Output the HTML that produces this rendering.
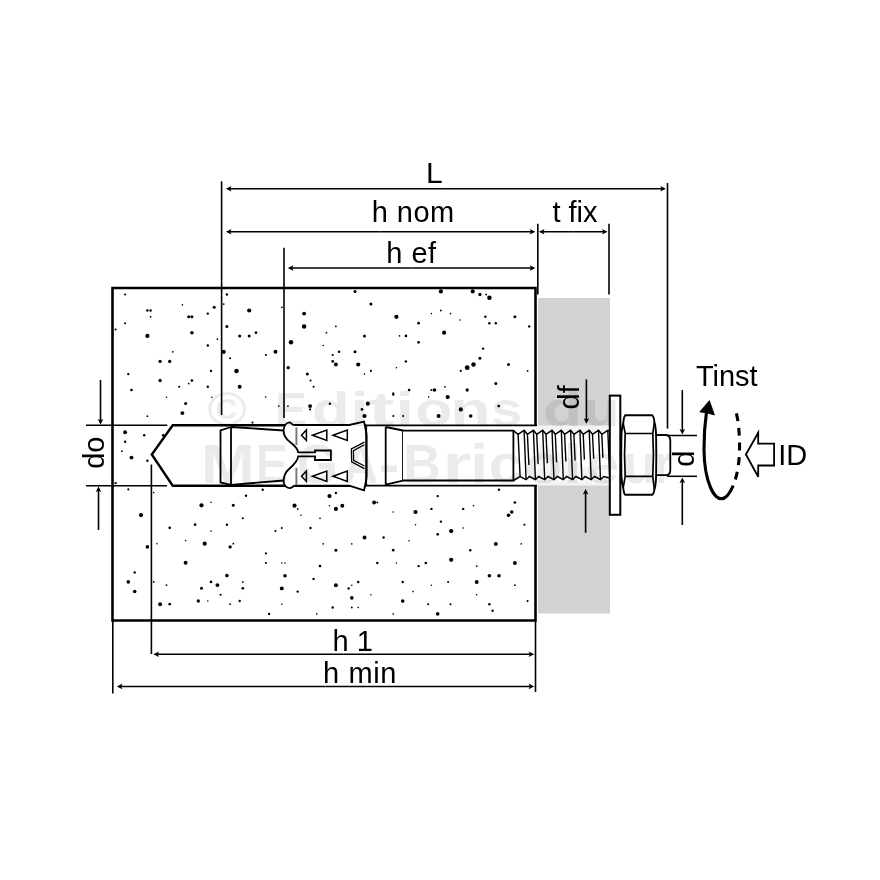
<!DOCTYPE html>
<html><head><meta charset="utf-8"><style>html,body{margin:0;padding:0;background:#fff;width:880px;height:880px;overflow:hidden}svg{display:block;will-change:transform}</style></head>
<body><svg width="880" height="880" viewBox="0 0 880 880"><rect x="0" y="0" width="880" height="880" fill="#fff"/>
<rect x="538" y="298" width="72" height="315.5" fill="#d2d2d2"/>
<rect x="538" y="425.5" width="72" height="60" fill="#f4f4f4"/>
<g fill="#000"><circle cx="125.1" cy="294.5" r="1.05"/><circle cx="147.4" cy="310.5" r="1.20"/><circle cx="150.6" cy="310.5" r="1.20"/><circle cx="150.6" cy="316.8" r="0.90"/><circle cx="125.1" cy="323.2" r="1.05"/><circle cx="115.6" cy="329.5" r="1.05"/><circle cx="147.4" cy="335.9" r="2.10"/><circle cx="182.4" cy="304.9" r="0.80"/><circle cx="188.7" cy="316.8" r="1.50"/><circle cx="191.9" cy="316.8" r="1.50"/><circle cx="191.9" cy="332.7" r="1.80"/><circle cx="207.8" cy="313.6" r="1.20"/><circle cx="214.2" cy="307.3" r="1.50"/><circle cx="207.8" cy="345.5" r="1.20"/><circle cx="217.4" cy="339.1" r="0.90"/><circle cx="172.8" cy="351.8" r="0.90"/><circle cx="160.1" cy="361.4" r="1.65"/><circle cx="169.7" cy="361.4" r="1.65"/><circle cx="128.3" cy="374.1" r="1.20"/><circle cx="211" cy="370.9" r="1.20"/><circle cx="160.1" cy="380.5" r="1.65"/><circle cx="191.9" cy="380.5" r="1.35"/><circle cx="188.7" cy="383.6" r="0.90"/><circle cx="179.2" cy="386.8" r="1.05"/><circle cx="207.8" cy="386.8" r="1.20"/><circle cx="131.5" cy="390" r="1.35"/><circle cx="226.9" cy="294.5" r="1.20"/><circle cx="223.7" cy="304.1" r="0.90"/><circle cx="249.2" cy="310.5" r="2.10"/><circle cx="226.9" cy="326.4" r="1.50"/><circle cx="239.7" cy="335.9" r="1.50"/><circle cx="249.2" cy="335.9" r="1.50"/><circle cx="223.7" cy="351.8" r="2.10"/><circle cx="230.1" cy="358.2" r="1.05"/><circle cx="236.5" cy="370.9" r="2.25"/><circle cx="239.7" cy="386.8" r="1.95"/><circle cx="281.8" cy="307.3" r="0.90"/><circle cx="256" cy="332.7" r="1.35"/><circle cx="275.5" cy="351.8" r="1.95"/><circle cx="265.9" cy="355" r="1.05"/><circle cx="304.1" cy="313.6" r="1.95"/><circle cx="304.1" cy="326.4" r="2.25"/><circle cx="291" cy="342.3" r="2.25"/><circle cx="288.2" cy="367.7" r="1.65"/><circle cx="307.3" cy="374.1" r="1.50"/><circle cx="310.5" cy="380.5" r="1.05"/><circle cx="313.6" cy="386.8" r="1.05"/><circle cx="355" cy="291.4" r="1.50"/><circle cx="370.9" cy="304.1" r="1.50"/><circle cx="335.9" cy="326.4" r="0.90"/><circle cx="326.4" cy="332.7" r="0.90"/><circle cx="364.5" cy="335.9" r="1.50"/><circle cx="323.2" cy="345.5" r="0.80"/><circle cx="339.1" cy="351.8" r="1.20"/><circle cx="332.7" cy="355" r="1.05"/><circle cx="355" cy="351.8" r="1.50"/><circle cx="332.7" cy="361.4" r="1.35"/><circle cx="335.9" cy="364.5" r="1.95"/><circle cx="358.2" cy="364.5" r="2.10"/><circle cx="370.9" cy="370.9" r="1.05"/><circle cx="364.5" cy="374.1" r="0.80"/><circle cx="440.9" cy="291.4" r="2.10"/><circle cx="472.7" cy="291.4" r="2.10"/><circle cx="479.9" cy="294.5" r="1.65"/><circle cx="486.2" cy="294.5" r="0.90"/><circle cx="489.4" cy="297.7" r="2.25"/><circle cx="396.4" cy="316.8" r="2.10"/><circle cx="418.6" cy="323.2" r="1.35"/><circle cx="440.9" cy="310.5" r="0.90"/><circle cx="431.4" cy="313.6" r="0.80"/><circle cx="450.5" cy="313.6" r="0.80"/><circle cx="460" cy="320" r="0.80"/><circle cx="485.4" cy="316.8" r="1.20"/><circle cx="489.4" cy="323.2" r="1.20"/><circle cx="495.8" cy="323.2" r="1.20"/><circle cx="514.9" cy="316.8" r="1.50"/><circle cx="529.2" cy="326.4" r="1.20"/><circle cx="444.1" cy="332.7" r="2.10"/><circle cx="405.9" cy="335.9" r="1.35"/><circle cx="418.6" cy="342.3" r="1.35"/><circle cx="399.5" cy="335.9" r="0.80"/><circle cx="483.1" cy="348.6" r="1.20"/><circle cx="479.9" cy="358.2" r="1.50"/><circle cx="473.5" cy="364.5" r="2.25"/><circle cx="467.2" cy="367.7" r="2.40"/><circle cx="460.8" cy="370.9" r="1.05"/><circle cx="508.5" cy="364.5" r="1.50"/><circle cx="527.6" cy="370.9" r="0.90"/><circle cx="405.9" cy="361.4" r="1.20"/><circle cx="396.4" cy="367.7" r="0.80"/><circle cx="495.8" cy="383.6" r="1.50"/><circle cx="409.1" cy="390" r="1.35"/><circle cx="434.5" cy="390" r="1.80"/><circle cx="431.4" cy="390" r="1.05"/><circle cx="444.9" cy="386.8" r="0.90"/><circle cx="467.2" cy="390" r="1.65"/><circle cx="393.2" cy="393.2" r="1.05"/><circle cx="166.5" cy="397.2" r="0.80"/><circle cx="185.6" cy="403.5" r="1.50"/><circle cx="182.4" cy="413.1" r="1.95"/><circle cx="147.4" cy="416.2" r="0.90"/><circle cx="211.8" cy="397.2" r="0.80"/><circle cx="125.1" cy="432.2" r="1.95"/><circle cx="144.2" cy="435.3" r="1.20"/><circle cx="163.3" cy="435.3" r="1.35"/><circle cx="125.1" cy="441.7" r="1.20"/><circle cx="121.9" cy="451.2" r="0.90"/><circle cx="131.5" cy="457.6" r="1.95"/><circle cx="147.4" cy="460.8" r="1.20"/><circle cx="115.6" cy="483.1" r="1.20"/><circle cx="128.3" cy="489.4" r="1.05"/><circle cx="153.7" cy="492.6" r="0.80"/><circle cx="201.5" cy="505.3" r="2.10"/><circle cx="233.3" cy="505.3" r="1.50"/><circle cx="246" cy="495.8" r="1.20"/><circle cx="211" cy="502.2" r="0.80"/><circle cx="265.7" cy="397.1" r="0.80"/><circle cx="310.1" cy="406.1" r="1.95"/><circle cx="310.1" cy="409.4" r="1.05"/><circle cx="329.9" cy="403.7" r="1.20"/><circle cx="367.8" cy="403.7" r="2.10"/><circle cx="362" cy="409.4" r="1.35"/><circle cx="364.5" cy="416" r="2.10"/><circle cx="252.5" cy="422.6" r="1.05"/><circle cx="393.3" cy="394.6" r="1.20"/><circle cx="393.3" cy="416" r="1.05"/><circle cx="287.9" cy="406.1" r="0.90"/><circle cx="278.8" cy="406.1" r="0.90"/><circle cx="447.7" cy="397.1" r="2.10"/><circle cx="428.7" cy="397.1" r="0.80"/><circle cx="460.8" cy="409.4" r="2.10"/><circle cx="438.6" cy="416" r="1.95"/><circle cx="470.7" cy="416" r="1.80"/><circle cx="498.7" cy="406.1" r="1.35"/><circle cx="403.2" cy="416" r="1.05"/><circle cx="141" cy="515.1" r="2.10"/><circle cx="242.8" cy="518.3" r="1.05"/><circle cx="169.7" cy="527.8" r="1.35"/><circle cx="195.1" cy="524.7" r="1.35"/><circle cx="226.9" cy="524.7" r="1.20"/><circle cx="211" cy="531" r="0.80"/><circle cx="147.4" cy="546.9" r="1.80"/><circle cx="156.9" cy="543.7" r="0.80"/><circle cx="185.6" cy="540.6" r="0.80"/><circle cx="204.7" cy="543.7" r="2.10"/><circle cx="230.1" cy="546.9" r="1.65"/><circle cx="233.3" cy="543.7" r="0.90"/><circle cx="185.6" cy="562.8" r="1.95"/><circle cx="134.7" cy="572.4" r="1.20"/><circle cx="128.3" cy="581.9" r="1.80"/><circle cx="134.7" cy="591.5" r="1.80"/><circle cx="226.9" cy="575.6" r="1.80"/><circle cx="211" cy="581.9" r="1.35"/><circle cx="217.4" cy="585.1" r="1.95"/><circle cx="201.5" cy="588.3" r="1.50"/><circle cx="166.5" cy="585.1" r="0.90"/><circle cx="153.7" cy="581.9" r="0.90"/><circle cx="242.8" cy="581.9" r="0.90"/><circle cx="242.8" cy="588.3" r="1.35"/><circle cx="220.6" cy="594.7" r="1.05"/><circle cx="160.1" cy="604.2" r="1.95"/><circle cx="169.7" cy="604.2" r="1.35"/><circle cx="198.3" cy="601" r="1.65"/><circle cx="207.8" cy="601" r="0.80"/><circle cx="239.7" cy="601" r="1.20"/><circle cx="230.1" cy="604.2" r="0.90"/><circle cx="262.7" cy="489.8" r="1.20"/><circle cx="335.9" cy="493" r="1.20"/><circle cx="329.5" cy="496.1" r="2.10"/><circle cx="294.5" cy="505.7" r="2.10"/><circle cx="297.7" cy="508.9" r="0.90"/><circle cx="300.9" cy="515.2" r="0.80"/><circle cx="342.3" cy="505.7" r="1.95"/><circle cx="335.9" cy="508.9" r="2.10"/><circle cx="329.5" cy="505.7" r="0.80"/><circle cx="320" cy="518.4" r="0.80"/><circle cx="374.1" cy="502.5" r="1.95"/><circle cx="377.3" cy="502.5" r="0.90"/><circle cx="281.8" cy="528" r="1.05"/><circle cx="275.5" cy="531.1" r="1.05"/><circle cx="310.5" cy="528" r="1.20"/><circle cx="364.5" cy="537.5" r="1.95"/><circle cx="383.6" cy="537.5" r="1.20"/><circle cx="323.2" cy="543.9" r="0.80"/><circle cx="351.8" cy="543.9" r="0.80"/><circle cx="335.9" cy="550.2" r="1.50"/><circle cx="265.9" cy="553.4" r="1.05"/><circle cx="265.9" cy="563" r="1.05"/><circle cx="281.8" cy="563" r="0.80"/><circle cx="285" cy="563" r="0.80"/><circle cx="320" cy="566.1" r="1.35"/><circle cx="377.3" cy="563" r="1.20"/><circle cx="285" cy="575.7" r="1.80"/><circle cx="313.6" cy="578.9" r="1.20"/><circle cx="281.8" cy="588.4" r="1.95"/><circle cx="297.7" cy="591.6" r="1.20"/><circle cx="335.9" cy="585.2" r="1.95"/><circle cx="348.6" cy="588.4" r="1.20"/><circle cx="358.2" cy="582" r="1.20"/><circle cx="351.8" cy="585.2" r="0.80"/><circle cx="351.8" cy="597.9" r="1.80"/><circle cx="370.9" cy="594.8" r="0.80"/><circle cx="281.8" cy="604.3" r="0.80"/><circle cx="332.7" cy="607.5" r="1.20"/><circle cx="351.8" cy="607.5" r="0.90"/><circle cx="358.2" cy="607.5" r="0.80"/><circle cx="269.1" cy="613.9" r="1.20"/><circle cx="316.8" cy="613.9" r="0.80"/><circle cx="499" cy="489.8" r="1.20"/><circle cx="437.7" cy="496.1" r="1.20"/><circle cx="514.9" cy="502.5" r="1.35"/><circle cx="415.5" cy="512" r="2.10"/><circle cx="431.4" cy="508.9" r="1.20"/><circle cx="463.2" cy="508.9" r="1.20"/><circle cx="473.5" cy="505.7" r="0.80"/><circle cx="511.7" cy="512" r="1.80"/><circle cx="508.5" cy="515.2" r="1.80"/><circle cx="393.2" cy="512" r="0.80"/><circle cx="415.5" cy="524.8" r="0.80"/><circle cx="440.9" cy="521.6" r="1.20"/><circle cx="463.2" cy="528" r="0.80"/><circle cx="524.4" cy="524.8" r="1.05"/><circle cx="451.2" cy="531.1" r="2.10"/><circle cx="437.7" cy="534.3" r="1.35"/><circle cx="409.1" cy="540.7" r="0.80"/><circle cx="495.8" cy="543.9" r="1.95"/><circle cx="521.2" cy="543.9" r="0.80"/><circle cx="393.2" cy="550.2" r="1.35"/><circle cx="470.3" cy="550.2" r="1.20"/><circle cx="451.2" cy="559.8" r="2.10"/><circle cx="425.8" cy="563" r="1.35"/><circle cx="418.6" cy="566.1" r="1.20"/><circle cx="396.4" cy="563" r="0.80"/><circle cx="476.7" cy="566.1" r="0.90"/><circle cx="514.9" cy="563" r="1.95"/><circle cx="489.4" cy="575.7" r="1.80"/><circle cx="499" cy="575.7" r="1.80"/><circle cx="476.7" cy="582" r="1.95"/><circle cx="448.1" cy="582" r="1.05"/><circle cx="402.7" cy="582" r="1.20"/><circle cx="431.4" cy="585.2" r="0.80"/><circle cx="413.1" cy="591.6" r="0.80"/><circle cx="514.9" cy="585.2" r="0.90"/><circle cx="476.7" cy="594.8" r="0.80"/><circle cx="402.7" cy="601.1" r="1.80"/><circle cx="428.2" cy="604.3" r="1.05"/><circle cx="450.5" cy="604.3" r="1.05"/><circle cx="489.4" cy="604.3" r="1.20"/><circle cx="492.6" cy="610.7" r="1.20"/><circle cx="527.6" cy="601.1" r="1.05"/><circle cx="437.7" cy="613.9" r="1.80"/><circle cx="393.2" cy="613.9" r="0.80"/></g>
<path d="M535.5,425.5 V288 H112.5 V620.5 H535.5 V485.7" fill="none" stroke="#000" stroke-width="2.6"/>
<line x1="86" y1="425.2" x2="167.3" y2="425.2" stroke="#000" stroke-width="1.6"/>
<line x1="86" y1="485.8" x2="167" y2="485.8" stroke="#000" stroke-width="1.6"/>
<line x1="366" y1="425.3" x2="537" y2="425.3" stroke="#000" stroke-width="1.7"/>
<line x1="366" y1="485.7" x2="537" y2="485.7" stroke="#000" stroke-width="1.7"/>
<line x1="445.90" y1="188.80" x2="228.00" y2="188.80" stroke="#000" stroke-width="1.5"/><path d="M225.90,188.80 L231.50,186.00 L230.20,188.80 L231.50,191.60Z" fill="#000"/><line x1="445.90" y1="188.80" x2="663.80" y2="188.80" stroke="#000" stroke-width="1.5"/><path d="M665.90,188.80 L660.30,191.60 L661.60,188.80 L660.30,186.00Z" fill="#000"/>
<line x1="221.6" y1="181.3" x2="221.6" y2="415" stroke="#000" stroke-width="1.6"/>
<line x1="667.5" y1="183" x2="667.5" y2="428.6" stroke="#000" stroke-width="1.6"/>
<line x1="380.60" y1="231.70" x2="228.00" y2="231.70" stroke="#000" stroke-width="1.5"/><path d="M225.90,231.70 L231.50,228.90 L230.20,231.70 L231.50,234.50Z" fill="#000"/><line x1="380.60" y1="231.70" x2="533.20" y2="231.70" stroke="#000" stroke-width="1.5"/><path d="M535.30,231.70 L529.70,234.50 L531.00,231.70 L529.70,228.90Z" fill="#000"/>
<line x1="573.25" y1="231.70" x2="541.00" y2="231.70" stroke="#000" stroke-width="1.5"/><path d="M538.90,231.70 L544.50,228.90 L543.20,231.70 L544.50,234.50Z" fill="#000"/><line x1="573.25" y1="231.70" x2="605.50" y2="231.70" stroke="#000" stroke-width="1.5"/><path d="M607.60,231.70 L602.00,234.50 L603.30,231.70 L602.00,228.90Z" fill="#000"/>
<line x1="537.8" y1="223.8" x2="537.8" y2="294.4" stroke="#000" stroke-width="1.6"/>
<line x1="609" y1="223.8" x2="609" y2="294.4" stroke="#000" stroke-width="1.6"/>
<line x1="411.55" y1="268.10" x2="289.90" y2="268.10" stroke="#000" stroke-width="1.5"/><path d="M287.80,268.10 L293.40,265.30 L292.10,268.10 L293.40,270.90Z" fill="#000"/><line x1="411.55" y1="268.10" x2="533.20" y2="268.10" stroke="#000" stroke-width="1.5"/><path d="M535.30,268.10 L529.70,270.90 L531.00,268.10 L529.70,265.30Z" fill="#000"/>
<line x1="284" y1="247.8" x2="284" y2="418" stroke="#000" stroke-width="1.6"/>
<line x1="343.80" y1="654.30" x2="155.50" y2="654.30" stroke="#000" stroke-width="1.5"/><path d="M153.40,654.30 L159.00,651.50 L157.70,654.30 L159.00,657.10Z" fill="#000"/><line x1="343.80" y1="654.30" x2="532.10" y2="654.30" stroke="#000" stroke-width="1.5"/><path d="M534.20,654.30 L528.60,657.10 L529.90,654.30 L528.60,651.50Z" fill="#000"/>
<line x1="151.4" y1="464.5" x2="151.4" y2="654" stroke="#000" stroke-width="1.6"/>
<line x1="325.55" y1="686.40" x2="119.00" y2="686.40" stroke="#000" stroke-width="1.5"/><path d="M116.90,686.40 L122.50,683.60 L121.20,686.40 L122.50,689.20Z" fill="#000"/><line x1="325.55" y1="686.40" x2="532.10" y2="686.40" stroke="#000" stroke-width="1.5"/><path d="M534.20,686.40 L528.60,689.20 L529.90,686.40 L528.60,683.60Z" fill="#000"/>
<line x1="112.8" y1="620" x2="112.8" y2="693.4" stroke="#000" stroke-width="1.6"/>
<line x1="535.5" y1="620" x2="535.5" y2="692" stroke="#000" stroke-width="1.6"/>
<line x1="100.50" y1="380.00" x2="100.50" y2="422.40" stroke="#000" stroke-width="1.6"/><path d="M100.50,424.50 L97.70,418.90 L100.50,420.20 L103.30,418.90Z" fill="#000"/>
<line x1="98.50" y1="530.00" x2="98.50" y2="488.60" stroke="#000" stroke-width="1.6"/><path d="M98.50,486.50 L101.30,492.10 L98.50,490.80 L95.70,492.10Z" fill="#000"/>
<line x1="586.40" y1="379.40" x2="586.40" y2="421.70" stroke="#000" stroke-width="1.6"/><path d="M586.40,423.80 L583.60,418.20 L586.40,419.50 L589.20,418.20Z" fill="#000"/>
<line x1="585.60" y1="532.80" x2="585.60" y2="491.10" stroke="#000" stroke-width="1.6"/><path d="M585.60,489.00 L588.40,494.60 L585.60,493.30 L582.80,494.60Z" fill="#000"/>
<line x1="667" y1="435.5" x2="697" y2="435.5" stroke="#000" stroke-width="1.5"/>
<line x1="667" y1="476.3" x2="697" y2="476.3" stroke="#000" stroke-width="1.5"/>
<line x1="682.30" y1="390.00" x2="682.30" y2="432.40" stroke="#000" stroke-width="1.6"/><path d="M682.30,434.50 L679.50,428.90 L682.30,430.20 L685.10,428.90Z" fill="#000"/>
<line x1="682.30" y1="525.00" x2="682.30" y2="479.60" stroke="#000" stroke-width="1.6"/><path d="M682.30,477.50 L685.10,483.10 L682.30,481.80 L679.50,483.10Z" fill="#000"/>
<path d="M366,425.3 H172.7 L151.8,454.5 L172.7,485.7 H366" fill="#fff" stroke="#000" stroke-width="2.4"/>
<path d="M231,427 L220.5,430.3 L220.5,482.5 L231,484.8 Z M231,427 L283.8,430.5 M231,484.8 L283.8,480.5" fill="none" stroke="#000" stroke-width="1.8"/>
<path d="M293.2,425 H349.3 L364,421.6 C365.5,428 366.5,432 366.6,436 V476 C366.5,480 365.5,484 364,490.4 L349.3,485.7 H294.5" fill="#fff" stroke="#000" stroke-width="1.9"/>
<path d="M293.2,425 C291.5,423.5 290.5,422.3 289.5,422.3 C287,422.5 284,425 283.6,430 C283.3,436 286,439 290,442 C294,445 297.5,448 298.2,452.3 H315 V450.5 H330.9 V460 H315 V456.4 H298.2 C297.5,462 293,465.5 289,469 C285.5,472 283.5,477 283.6,482 C284,486 287.5,488.3 290,488.2 C291.5,488 292.5,487 294.5,485.5" fill="#fff" stroke="#000" stroke-width="1.8"/>
<line x1="296.4" y1="427.3" x2="296.4" y2="445" stroke="#777777" stroke-width="1.9"/>
<line x1="296.4" y1="467.7" x2="296.4" y2="485" stroke="#777777" stroke-width="1.9"/>
<path d="M301.5,435.2 L306.4,430.0 L306.4,440.4 Z" fill="none" stroke="#000" stroke-width="1.5"/>
<path d="M312.5,435.2 L326.8,430.0 L326.8,440.4 Z" fill="none" stroke="#000" stroke-width="1.5"/>
<path d="M333,435.2 L347.3,430.0 L347.3,440.4 Z" fill="none" stroke="#000" stroke-width="1.5"/>
<path d="M301.5,476.2 L306.4,471.0 L306.4,481.4 Z" fill="none" stroke="#000" stroke-width="1.5"/>
<path d="M312.5,476.2 L326.8,471.0 L326.8,481.4 Z" fill="none" stroke="#000" stroke-width="1.5"/>
<path d="M333,476.2 L347.3,471.0 L347.3,481.4 Z" fill="none" stroke="#000" stroke-width="1.5"/>
<path d="M364.4,442.2 L351.4,448.9 L351.6,461.9 L364.4,468.6 M364.4,444.8 L353.4,450.6 L353.6,460.4 L364.4,466" fill="none" stroke="#000" stroke-width="1.3"/>
<path d="M366.2,425.3 V485.7 M385.7,427 V484.7 M385.7,427 L403,430.5 M385.7,484.7 L403,480.6 M403,430.5 V480.6" fill="none" stroke="#000" stroke-width="1.8"/>
<path d="M403,430.6 H513.4 V480.5 H403" fill="#fff" stroke="#000" stroke-width="1.8"/>
<path d="M513.4,430.7 513.4,430.7 L518.1,434.3 L524.1,430.3 L527.4,434.3 L533.4,430.3 L536.7,434.3 L542.7,430.3 L546.0,434.3 L552.0,430.3 L555.3,434.3 L561.3,430.3 L564.6,434.3 L570.6,430.3 L573.9,434.3 L579.9,430.3 L583.2,434.3 L589.2,430.3 L592.5,434.3 L598.5,430.3 L601.8,434.3 L607.8,430.3 L609.5,431 L609.5,480 L513.4,480.5 L520.1,476.5 L526.1,479.7 L529.4,476.5 L535.4,479.7 L538.7,476.5 L544.7,479.7 L548.0,476.5 L554.0,479.7 L557.3,476.5 L563.3,479.7 L566.6,476.5 L572.6,479.7 L575.9,476.5 L581.9,479.7 L585.2,476.5 L591.2,479.7 L594.5,476.5 L600.5,479.7 L603.8,476.5 L609.5,478 Z" fill="#fff" stroke="none"/>
<path d="M513.4,430.7 L518.1,434.3 L524.1,430.3 L527.4,434.3 L533.4,430.3 L536.7,434.3 L542.7,430.3 L546.0,434.3 L552.0,430.3 L555.3,434.3 L561.3,430.3 L564.6,434.3 L570.6,430.3 L573.9,434.3 L579.9,430.3 L583.2,434.3 L589.2,430.3 L592.5,434.3 L598.5,430.3 L601.8,434.3 L607.8,430.3 L609.5,431" fill="none" stroke="#000" stroke-width="1.5"/>
<path d="M513.4,480.5 L520.1,476.5 L526.1,479.7 L529.4,476.5 L535.4,479.7 L538.7,476.5 L544.7,479.7 L548.0,476.5 L554.0,479.7 L557.3,476.5 L563.3,479.7 L566.6,476.5 L572.6,479.7 L575.9,476.5 L581.9,479.7 L585.2,476.5 L591.2,479.7 L594.5,476.5 L600.5,479.7 L603.8,476.5 L609.5,478" fill="none" stroke="#000" stroke-width="1.5"/>
<path d="M524.1,430.3 L526.1,479.7 M518.1,434.3 L520.1,476.5 M533.4,430.3 L535.4,479.7 M527.4,434.3 L528.9,465.0 M542.7,430.3 L544.7,479.7 M536.7,434.3 L538.1,464.1 M552.0,430.3 L554.0,479.7 M546.0,434.3 L547.4,463.2 M561.3,430.3 L563.3,479.7 M555.3,434.3 L556.6,462.3 M570.6,430.3 L572.6,479.7 M564.6,434.3 L565.9,461.4 M579.9,430.3 L581.9,479.7 M573.9,434.3 L575.1,460.5 M589.2,430.3 L591.2,479.7 M583.2,434.3 L584.4,459.6 M598.5,430.3 L600.5,479.7 M592.5,434.3 L593.7,458.7 M607.8,430.3 L609.8,479.7 M601.8,434.3 L602.9,457.8 " fill="none" stroke="#000" stroke-width="1.4"/>
<rect x="609.8" y="395.6" width="10.5" height="119.2" fill="#fff" stroke="#000" stroke-width="2"/>
<path d="M655,435 H666 Q670.2,435.5 670.3,440.5 V470.5 Q670.2,475 666,475.2 H655" fill="#fff" stroke="#000" stroke-width="1.8"/>
<path d="M625.2,415.3 H652.3 C653.5,416.5 654.2,419 654.4,422.3 C655.5,426 656,430 656.1,436 C656.4,450 656.4,462 656.1,476 C656,482 655.5,486 654.4,489.7 C654,492 653.5,494 652.3,494.8 H625.2 C624.2,494 623.5,491 623.2,487.7 C622,484 621.6,480 621.4,476 C621.1,462 621.1,450 621.4,436 C621.6,430 622,426.5 623.2,423.3 C623.5,420 624.2,416.5 625.2,415.3 Z" fill="#fff" stroke="#000" stroke-width="1.9"/>
<path d="M625.2,433.5 H652.8 M625.2,476.4 H652.8 M623.2,423.3 L625.2,433.5 Q623.9,455 625.2,476.4 L623.2,487.7 M654.4,422.3 L652.8,433.5 Q654.1,455 652.8,476.4 L654.4,489.7" fill="none" stroke="#000" stroke-width="1.7"/>
<path d="M706.6,411 C705,422 703.9,437 704,450 C704.2,465 706.3,478 710.5,487.5 C713.5,494.5 717.5,498.8 721.5,498.8 C725.5,498.8 729.8,493.5 733.2,485.6" fill="none" stroke="#000" stroke-width="3.1"/>
<path d="M709.4,400.6 L699.8,411.9 Q706.9,412.3 714.4,415 Z" fill="#000" stroke="#000" stroke-width="0.8" stroke-linejoin="round"/>
<path d="M733.2,485.6 C738,474 740,458 739.5,442 C739.2,430 738.2,420 736,411.9" fill="none" stroke="#000" stroke-width="3.1" stroke-dasharray="8,6.6" stroke-dashoffset="8"/>
<path d="M745.9,454.5 L758.2,432.7 V443.6 H774.1 V465.5 H758.2 V476.8 Z" fill="#fff" stroke="#000" stroke-width="1.8" stroke-linejoin="miter"/>
<text x="434.3" y="183.1" font-size="30" font-family="Liberation Sans, sans-serif" text-anchor="middle" >L</text>
<text x="413.2" y="222" font-size="29" font-family="Liberation Sans, sans-serif" text-anchor="middle" letter-spacing="0.5">h nom</text>
<text x="575" y="221.8" font-size="29" font-family="Liberation Sans, sans-serif" text-anchor="middle" >t fix</text>
<text x="411.4" y="262.5" font-size="29" font-family="Liberation Sans, sans-serif" text-anchor="middle" letter-spacing="0.5">h ef</text>
<text x="352.7" y="650.8" font-size="29" font-family="Liberation Sans, sans-serif" text-anchor="middle" >h 1</text>
<text x="360" y="682.7" font-size="29" font-family="Liberation Sans, sans-serif" text-anchor="middle" letter-spacing="0.6">h min</text>
<text x="726.8" y="385.5" font-size="29" font-family="Liberation Sans, sans-serif" text-anchor="middle" >Tinst</text>
<text x="792.7" y="464.5" font-size="29" font-family="Liberation Sans, sans-serif" text-anchor="middle" >ID</text>
<text transform="translate(103.6,452.7) rotate(-90)" font-size="29" font-family="Liberation Sans, sans-serif" text-anchor="middle">do</text>
<text transform="translate(578.5,397.3) rotate(-90)" font-size="29" font-family="Liberation Sans, sans-serif" text-anchor="middle">df</text>
<text transform="translate(693.7,458.8) rotate(-90)" font-size="29" font-family="Liberation Sans, sans-serif" text-anchor="middle">d</text>
<g fill="#000" fill-opacity="0.078" font-family="Liberation Sans, sans-serif" font-weight="bold"><g font-size="49"><text transform="translate(207.16,425.5) scale(1.098,1)">©</text><text transform="translate(275.00,425.5) scale(0.975,1)">E</text><text transform="translate(311.98,425.5) scale(1.255,1)">d</text><text transform="translate(350.17,425.5) scale(1.354,1)">i</text><text transform="translate(368.55,425.5) scale(1.581,1)">t</text><text transform="translate(395.57,425.5) scale(1.354,1)">i</text><text transform="translate(414.90,425.5) scale(1.253,1)">o</text><text transform="translate(450.15,425.5) scale(1.348,1)">n</text><text transform="translate(490.70,425.5) scale(1.161,1)">s</text><text transform="translate(542.85,425.5) scale(1.316,1)">d</text><text transform="translate(583.31,425.5) scale(1.213,1)">u</text></g><g font-size="56"><text transform="translate(200.65,482.5) scale(1.162,1)">M</text><text transform="translate(255.78,482.5) scale(0.859,1)">E</text><text transform="translate(296.81,482.5) scale(0.953,1)">G</text><text transform="translate(343.29,482.5) scale(0.865,1)">A</text><text transform="translate(378.54,482.5) scale(1.125,1)">-</text><text transform="translate(403.31,482.5) scale(0.931,1)">B</text><text transform="translate(442.50,482.5) scale(1.327,1)">r</text><text transform="translate(470.32,482.5) scale(1.145,1)">i</text><text transform="translate(488.60,482.5) scale(1.098,1)">c</text><text transform="translate(524.58,482.5) scale(1.106,1)">o</text><text transform="translate(563.42,482.5) scale(1.171,1)">l</text><text transform="translate(585.65,482.5) scale(1.072,1)">e</text><text transform="translate(622.53,482.5) scale(0.998,1)">u</text><text transform="translate(655.22,482.5) scale(0.753,1)">r</text></g></g></svg></body></html>
